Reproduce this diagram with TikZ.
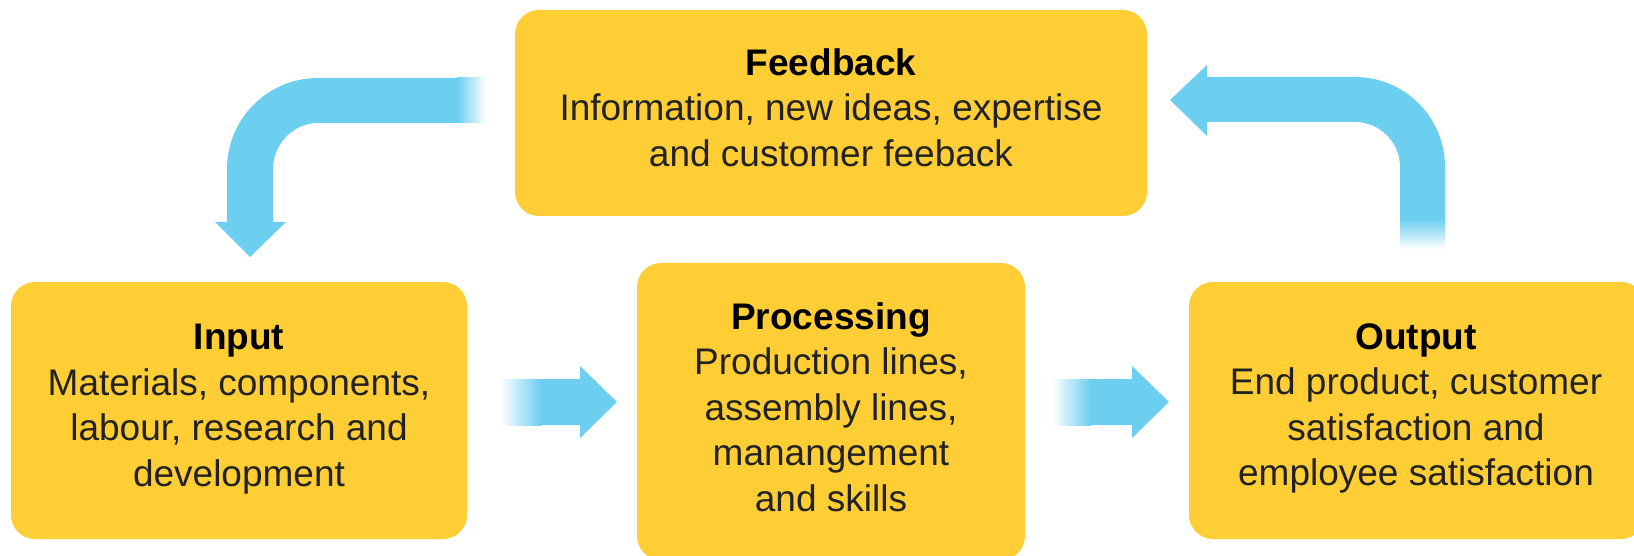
\documentclass[tikz,border=0pt]{standalone}
\usepackage{fontspec}
\setmainfont{Liberation Sans}
\definecolor{panelyellow}{RGB}{255,206,52}
\definecolor{arrowblue}{RGB}{108,207,240}
\definecolor{bodygray}{RGB}{34,34,34}
\begin{document}
\begin{tikzpicture}[x=1pt,y=-1pt,
  panel/.style={rectangle, rounded corners=24pt, fill=panelyellow, inner sep=0pt},
  paneltext/.style={align=center, inner sep=0pt, text=bodygray,
    font=\fontsize{37}{45.5}\selectfont},
  flow/.style={fill=arrowblue},
]
% page frame; the lower and right panels run past it
\clip (0,0) rectangle (1634,556);

% panels
\node[panel, minimum width=456pt, minimum height=257pt] (input) at (239,410.5) {};
\node[panel, minimum width=388pt, minimum height=297pt] (processing) at (831,411.5) {};
\node[panel, minimum width=456pt, minimum height=257pt] (output) at (1417,410.5) {};
\node[panel, minimum width=632pt, minimum height=206pt] (feedback) at (831,113) {};

% panel texts
\node[paneltext] (inputtext) at (239,409) {\textcolor{black}{\bfseries Input}\\
  Materials, components,\\ labour, research and\\ development};
\node[paneltext] (processingtext) at (831,407) {\textcolor{black}{\bfseries Processing}\\
  Production lines,\\ assembly lines,\\ manangement\\ and skills};
\node[paneltext] (outputtext) at (1416,408.5) {\textcolor{black}{\bfseries Output}\\
  End product, customer\\ satisfaction and\\ employee satisfaction};
\node[paneltext] (feedbacktext) at (831,107.5) {\textcolor{black}{\bfseries Feedback}\\
  Information, new ideas, expertise\\ and customer feeback};

% input -> processing
\shade[left color=white, right color=arrowblue] (500,379) rectangle (541,425);
\fill[flow] (540,379) -- (580,379) -- (580,366) -- (617,402) -- (580,438)
  -- (580,425) -- (540,425) -- cycle;

% processing -> output
\shade[left color=white, right color=arrowblue] (1052,379) rectangle (1091,425);
\fill[flow] (1090,379) -- (1132,379) -- (1132,366) -- (1169,402) -- (1132,438)
  -- (1132,425) -- (1090,425) -- cycle;

% output -> feedback (bent arrow, rising from the right)
\shade[top color=arrowblue, bottom color=white] (1400,219) rectangle (1445,249);
\fill[flow] (1170,100) -- (1207,65) -- (1207,77) -- (1355,77)
  .. controls (1404.7,77) and (1445,117.3) .. (1445,167) -- (1445,220)
  -- (1400,220) -- (1400,167)
  .. controls (1400,142.1) and (1379.9,122) .. (1355,122)
  -- (1207,122) -- (1207,136) -- cycle;

% feedback -> input (bent arrow, falling on the left)
\shade[left color=arrowblue, right color=white] (457,78) rectangle (486,123);
\fill[flow] (458,78) -- (318,78)
  .. controls (267.7,78) and (227,118.7) .. (227,169) -- (227,222)
  -- (215,222) -- (250,257) -- (286,222) -- (273,222) -- (273,169)
  .. controls (273,144.1) and (293.1,123) .. (318,123) -- (458,123) -- cycle;
\end{tikzpicture}
\end{document}
